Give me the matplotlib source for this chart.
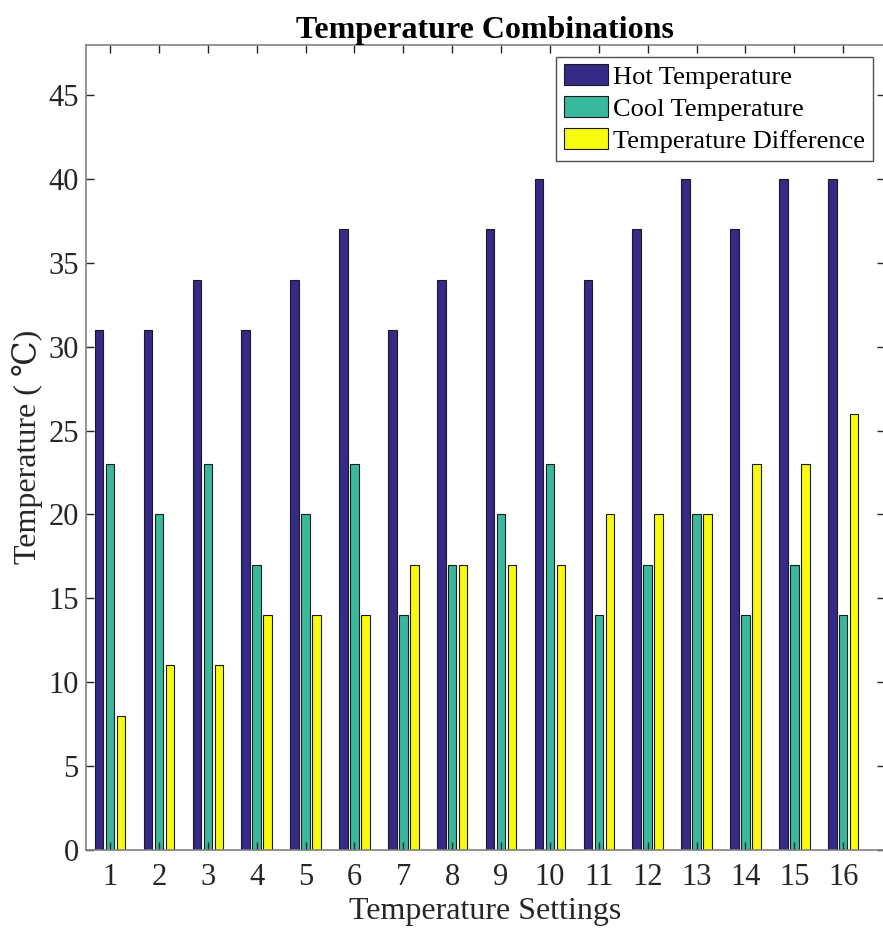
import numpy as np
import matplotlib
matplotlib.use('Agg')
import matplotlib.pyplot as plt

plt.rcParams['font.family'] = ['Liberation Serif', 'DejaVu Serif']

settings = np.arange(1, 17)
hot = [31, 31, 34, 31, 34, 37, 31, 34, 37, 40, 34, 37, 40, 37, 40, 40]
cool = [23, 20, 23, 17, 20, 23, 14, 17, 20, 23, 14, 17, 20, 14, 17, 14]
diff = [8, 11, 11, 14, 14, 14, 17, 17, 17, 17, 20, 20, 20, 23, 23, 26]
names = ['Hot Temperature', 'Cool Temperature', 'Temperature Difference']
cols = ['#352a87', '#38b99e', '#f9fb0e']

fig = plt.figure(figsize=(8.83, 9.30), dpi=100)
ax = fig.add_axes([0.097, 0.086, 0.905, 0.866])

w = 0.175
off = 0.224
for k, (vals, c, nm) in enumerate(zip([hot, cool, diff], cols, names)):
    ax.bar(settings + (k - 1) * off, vals, width=w, color=c, edgecolor='#1a1a1a',
           linewidth=0.8, label=nm)

ax.set_xlim(0.5, 16.85)
ax.set_ylim(0, 48)
ax.set_xticks(settings)
ax.set_yticks(np.arange(0, 46, 5))
ax.tick_params(direction='in', top=True, right=True, length=6, width=1,
               colors='#262626', labelsize=22)
ax.tick_params(axis='x', pad=9)
ax.tick_params(axis='y', pad=5)
for s in ax.spines.values():
    s.set_color('#808080')
    s.set_linewidth(1.2)

ax.set_xlabel('Temperature Settings', fontsize=23, color='#262626', labelpad=4)
ax.set_ylabel('Temperature ( ℃)', fontsize=23, color='#262626', labelpad=4)
ax.set_title('Temperature Combinations', fontsize=23, fontweight='bold', pad=5)

leg = ax.legend(loc='upper right', fontsize=19, frameon=True, fancybox=False,
                edgecolor='#262626', handlelength=1.65, handleheight=0.85,
                handletextpad=0.2, labelspacing=0.27, borderpad=0.3,
                borderaxespad=0.45)
leg.get_frame().set_linewidth(1.0)

fig.savefig('out.png', dpi=100)
